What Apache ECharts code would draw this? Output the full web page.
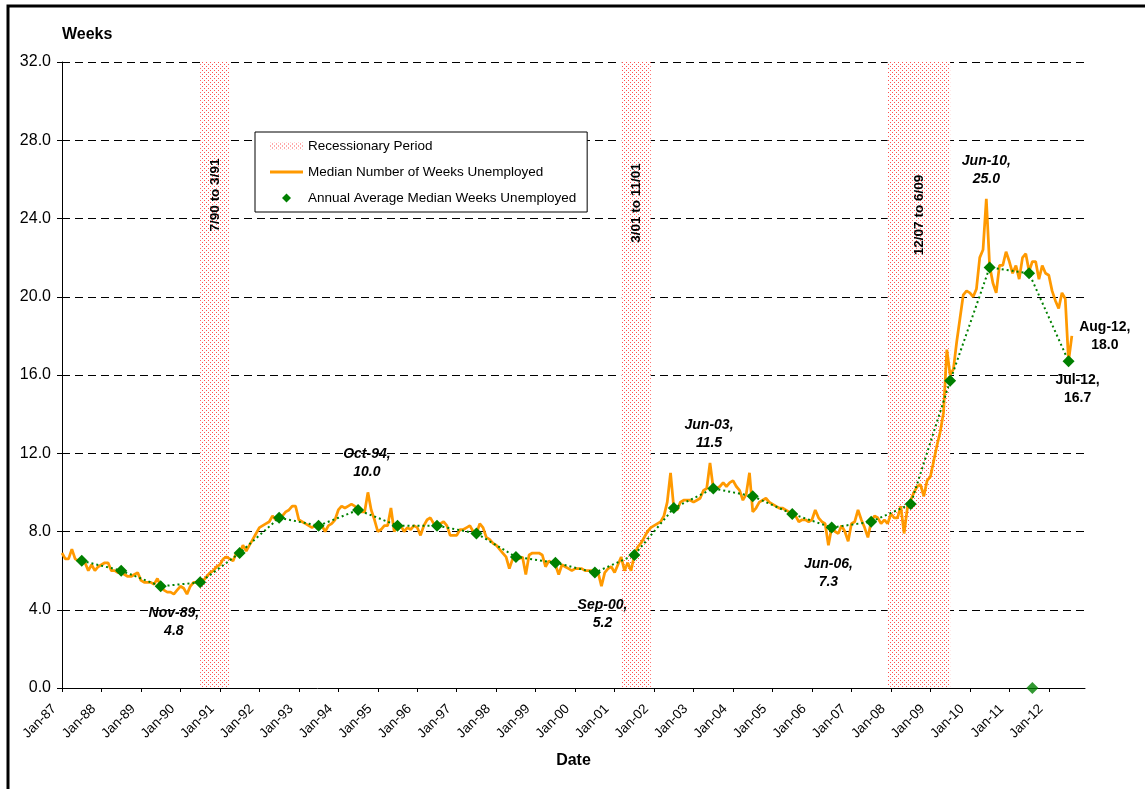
<!DOCTYPE html>
<html>
<head>
<meta charset="utf-8">
<title>Median Weeks Unemployed</title>
<script src="https://cdn.jsdelivr.net/npm/echarts@6/dist/echarts.min.js"></script>
<style>
  html, body { margin: 0; padding: 0; background: #fff; }
  #chart { width: 1145px; height: 789px; }
</style>
</head>
<body>
<div id="chart"></div>
<script>
// median number of weeks unemployed, monthly, Jan-87 .. Aug-12
const medianWeeks = [
  6.9, 6.6, 6.6, 7.1, 6.6, 6.5, 6.5, 6.4, 6.0, 6.3, 6.0, 6.2,   // 1987
  6.3, 6.4, 6.4, 6.0, 6.0, 5.9, 5.9, 5.8, 5.7, 5.7, 5.8, 5.9,   // 1988
  5.5, 5.4, 5.4, 5.4, 5.3, 5.6, 5.2, 5.0, 4.9, 4.9, 4.8, 5.0,   // 1989
  5.2, 5.1, 4.8, 5.2, 5.4, 5.4, 5.4, 5.5, 5.7, 5.9, 6.0, 6.2,   // 1990
  6.3, 6.6, 6.7, 6.6, 6.5, 6.9, 6.9, 7.3, 7.0, 7.3, 7.6, 7.9,   // 1991
  8.2, 8.3, 8.4, 8.5, 8.8, 8.6, 8.7, 8.8, 9.0, 9.1, 9.3, 9.3,   // 1992
  8.6, 8.5, 8.4, 8.3, 8.2, 8.3, 8.3, 8.3, 8.0, 8.3, 8.4, 8.6,   // 1993
  9.1, 9.3, 9.2, 9.3, 9.4, 9.3, 9.1, 9.0, 9.0, 10.0, 9.1, 8.6,  // 1994
  8.0, 8.1, 8.3, 8.3, 9.2, 8.0, 8.3, 8.3, 8.0, 8.2, 8.1, 8.3,   // 1995
  8.2, 7.8, 8.3, 8.6, 8.7, 8.4, 8.3, 8.4, 8.5, 8.3, 7.8, 7.8,   // 1996
  7.8, 8.1, 8.1, 8.2, 8.3, 8.0, 7.9, 8.4, 8.2, 7.7, 7.6, 7.4,   // 1997
  7.3, 7.1, 6.9, 6.7, 6.1, 6.6, 6.7, 6.6, 6.7, 5.8, 6.8, 6.9,   // 1998
  6.9, 6.9, 6.8, 6.2, 6.5, 6.4, 6.3, 5.8, 6.3, 6.2, 6.1, 6.0,   // 1999
  6.1, 6.1, 6.1, 6.0, 6.0, 6.0, 5.9, 5.9, 5.2, 5.9, 6.1, 6.2,   // 2000
  5.9, 6.3, 6.7, 6.0, 6.4, 6.0, 6.8, 7.2, 7.4, 7.7, 8.0, 8.2,   // 2001
  8.3, 8.4, 8.5, 8.8, 9.5, 11.0, 9.2, 9.1, 9.5, 9.6, 9.6, 9.6,  // 2002
  9.5, 9.6, 9.7, 10.1, 10.2, 11.5, 10.2, 10.2, 10.3, 10.5, 10.3, 10.5, // 2003
  10.6, 10.3, 10.1, 9.6, 9.9, 11.0, 9.0, 9.2, 9.5, 9.6, 9.7, 9.5,    // 2004
  9.4, 9.3, 9.2, 9.2, 9.1, 9.0, 8.9, 8.8, 8.5, 8.6, 8.6, 8.5,   // 2005
  8.6, 9.1, 8.7, 8.5, 8.4, 7.3, 8.2, 8.0, 7.9, 8.3, 8.0, 7.5,   // 2006
  8.4, 8.5, 9.1, 8.6, 8.2, 7.7, 8.5, 8.8, 8.7, 8.4, 8.6, 8.4,   // 2007
  8.9, 8.7, 8.7, 9.3, 7.9, 9.2, 9.6, 10.0, 10.3, 10.4, 9.8, 10.6,    // 2008
  10.8, 11.6, 12.4, 13.1, 14.1, 17.3, 16.0, 16.3, 17.7, 18.9, 20.1, 20.3, // 2009
  20.2, 20.0, 20.4, 22.0, 22.4, 25.0, 21.6, 20.7, 20.2, 21.6, 21.6, 22.3, // 2010
  21.8, 21.2, 21.6, 20.9, 22.0, 22.2, 21.3, 21.8, 21.8, 20.9, 21.6, 21.2, // 2011
  21.1, 20.3, 19.8, 19.4, 20.2, 19.9, 16.7, 18.0                          // 2012
];

// annual average, one per year 1987..2012, plotted at July
const annualAvg = [6.5, 6.0, 5.2, 5.4, 6.9, 8.7, 8.3, 9.1, 8.3, 8.3, 7.9, 6.7, 6.4,
                   5.9, 6.8, 9.2, 10.2, 9.8, 8.9, 8.2, 8.5, 9.4, 15.7, 21.5, 21.2, 16.7];
// a lone annual marker sitting on the axis
const strayPoint = ['Aug-11', 0];

const firstYear = 1987, lastYear = 2012;
const monthNames = ['Jan','Feb','Mar','Apr','May','Jun','Jul','Aug','Sep','Oct','Nov','Dec'];

// [start, end, label]
const recessions = [
  ['Jul-90', 'Apr-91', '7/90 to 3/91'],
  ['Mar-01', 'Dec-01', '3/01 to 11/01'],
  ['Dec-07', 'Jul-09', '12/07 to 6/09']
];
const callouts = ['Nov-89', 'Oct-94', 'Sep-00', 'Jun-03', 'Jun-06', 'Jun-10', 'Aug-12', 'Jul-12'];
const yTicks = [0, 4, 8, 12, 16, 20, 24, 28, 32];

const months = [];
for (let y = firstYear; y <= lastYear; y++) {
  for (const m of monthNames) months.push(m + '-' + String(y).slice(2));
}
const annualSeries = months.map((_, i) => (i % 12 === 6 ? annualAvg[Math.floor(i / 12)] : null));

const FONT = '"Liberation Sans", Arial, sans-serif';

// red dot fill for the recession bands
function dotPattern() {
  const c = document.createElement('canvas');
  c.width = 4; c.height = 4;
  const g = c.getContext('2d');
  g.fillStyle = '#fff';
  g.fillRect(0, 0, 4, 4);
  g.fillStyle = '#ff5050';
  g.fillRect(0, 0, 1, 1);
  g.fillRect(2, 2, 1, 1);
  return { image: c, repeat: 'repeat' };
}
const dots = dotPattern();

// label placement around each callout point
const calloutStyle = {
  'Nov-89': { offset: [0, 28] },
  'Oct-94': { offset: [-1, -29] },
  'Sep-00': { offset: [1, 28] },
  'Jun-03': { offset: [-1, -29] },
  'Jun-06': { offset: [0, 28] },
  'Jun-10': { offset: [0, -29] },
  'Aug-12': { offset: [33, 0], fontStyle: 'normal' },
  'Jul-12': { offset: [9, 28], fontStyle: 'normal' }
};
const bandLabelY = [133, 141, 153];

const chart = echarts.init(document.getElementById('chart'));
chart.setOption({
  animation: false,
  backgroundColor: '#fff',
  textStyle: { fontFamily: FONT },
  grid: { left: 62, top: 62, right: 60, bottom: 101, outerBoundsMode: 'none' },
  graphic: [{
    type: 'rect', silent: true, z: 100,
    shape: { x: 8, y: 6, width: 1300, height: 900 },
    style: { fill: 'none', stroke: '#000', lineWidth: 3 }
  }],
  legend: {
    orient: 'vertical', left: 255, top: 132,
    backgroundColor: '#fff', borderColor: '#000', borderWidth: 1, borderRadius: 0,
    padding: [7, 11, 7, 15], itemGap: 12, itemWidth: 33, itemHeight: 9,
    textStyle: { fontSize: 13.5, color: '#000', fontFamily: FONT },
    data: [
      { name: 'Recessionary Period', icon: 'path://M0,0H33V7H0Z', itemStyle: { color: dots, borderWidth: 0 } },
      { name: 'Median Number of Weeks Unemployed', icon: 'path://M0,0H33V3H0Z', itemStyle: { color: '#ff9900', borderWidth: 0 } },
      { name: 'Annual Average Median Weeks Unemployed', icon: 'path://M5,0L10,5L5,10L0,5Z', itemStyle: { color: '#008000', borderWidth: 0 } }
    ]
  },
  xAxis: {
    type: 'category',
    data: months,
    boundaryGap: false,
    name: 'Date',
    nameLocation: 'middle',
    nameGap: 65,
    nameTextStyle: { fontSize: 16, fontWeight: 'bold', color: '#000', fontFamily: FONT },
    axisLine: { lineStyle: { color: '#000', width: 1 } },
    axisTick: { interval: 11, length: 4, lineStyle: { color: '#000' } },
    axisLabel: {
      interval: 11, rotate: 45, margin: 11, padding: [0, 11, 0, 0],
      fontSize: 13.5, color: '#000', fontFamily: FONT
    },
    splitLine: { show: false }
  },
  yAxis: {
    type: 'value',
    min: yTicks[0], max: yTicks[yTicks.length - 1], interval: 4,
    name: 'Weeks',
    nameLocation: 'end',
    nameGap: 19,
    nameTextStyle: { fontSize: 16, fontWeight: 'bold', color: '#000', align: 'left', fontFamily: FONT },
    axisLine: { show: true, lineStyle: { color: '#000', width: 1 } },
    axisTick: { show: true, length: 5, lineStyle: { color: '#000' } },
    axisLabel: { margin: 11, fontSize: 16, color: '#000', fontFamily: FONT, formatter: v => v.toFixed(1) },
    splitLine: { show: true, lineStyle: { color: '#000', width: 1, type: [8, 5] } }
  },
  series: [
    {
      name: 'Recessionary Period',
      type: 'line',
      data: [],
      markArea: {
        silent: true,
        itemStyle: { color: dots },
        data: recessions.map((r, i) => [
          {
            xAxis: r[0], name: r[2],
            label: {
              show: true, position: ['50%', bandLabelY[i]], rotate: 90,
              align: 'center', verticalAlign: 'middle',
              fontSize: 13.5, fontWeight: 'bold', color: '#000', fontFamily: FONT
            }
          },
          { xAxis: r[1] }
        ])
      }
    },
    {
      name: 'Median Number of Weeks Unemployed',
      type: 'line',
      data: medianWeeks,
      symbol: 'none',
      itemStyle: { color: '#ff9900' },
      lineStyle: { color: '#ff9900', width: 2.75 },
      z: 3,
      markPoint: {
        symbol: 'circle',
        symbolSize: 0,
        silent: true,
        label: {
          show: true, position: 'inside',
          fontSize: 14, fontWeight: 'bold', fontStyle: 'italic', lineHeight: 18,
          color: '#000', fontFamily: FONT, align: 'center',
          formatter: p => p.name + ',\n' + p.value.toFixed(1)
        },
        data: callouts.map(c => {
          const v = medianWeeks[months.indexOf(c)];
          const st = calloutStyle[c];
          return {
            name: c, coord: [c, v], value: v,
            label: { offset: st.offset, fontStyle: st.fontStyle || 'italic' }
          };
        })
      }
    },
    {
      name: 'Annual Average Median Weeks Unemployed',
      type: 'line',
      data: annualSeries,
      connectNulls: true,
      showSymbol: true,
      showAllSymbol: true,
      symbol: 'diamond',
      symbolSize: 12,
      itemStyle: { color: '#008000' },
      lineStyle: { color: '#008000', width: 2, type: [2, 3] },
      z: 4
    },
    {
      name: 'stray',
      type: 'scatter',
      data: [strayPoint],
      symbol: 'diamond',
      symbolSize: 12,
      itemStyle: { color: '#008000' },
      z: 4
    }
  ]
});
</script>
</body>
</html>
